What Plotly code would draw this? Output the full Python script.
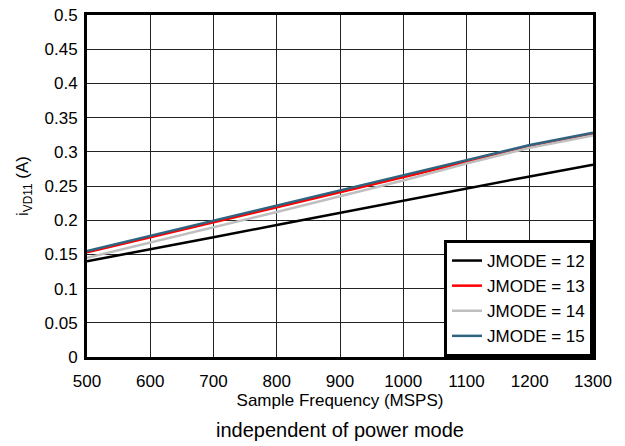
import plotly.graph_objects as go

freq = [500, 600, 700, 800, 900, 1000, 1100, 1200, 1300]
jmode12 = [0.140, 0.157, 0.175, 0.193, 0.211, 0.229, 0.247, 0.264, 0.281]
jmode13 = [0.153, 0.175, 0.197, 0.219, 0.241, 0.263, 0.285, 0.307, 0.325]
jmode14 = [0.145, 0.167, 0.189, 0.212, 0.235, 0.258, 0.283, 0.306, 0.324]
jmode15 = [0.155, 0.177, 0.199, 0.221, 0.243, 0.265, 0.287, 0.310, 0.328]
series_names = ["JMODE = 12", "JMODE = 13", "JMODE = 14", "JMODE = 15"]
colors = ["#000000", "#ff0000", "#bfbfbf", "#2e6480"]
y_ticks = [0, 0.05, 0.1, 0.15, 0.2, 0.25, 0.3, 0.35, 0.4, 0.45, 0.5]
y_tick_text = ["0", "0.05", "0.1", "0.15", "0.2", "0.25", "0.3", "0.35", "0.4", "0.45", "0.5"]
x_ticks = [500, 600, 700, 800, 900, 1000, 1100, 1200, 1300]

font = "Liberation Sans, Arial, sans-serif"
fig = go.Figure()
for name, ys, c in zip(series_names, [jmode12, jmode13, jmode14, jmode15], colors):
    fig.add_trace(go.Scatter(x=freq, y=ys, mode="lines", name=name,
                             line=dict(color=c, width=2.5)))

W, H = 625, 446
L, R, T, B = 87, 32, 15, 89
ph = H - T - B
fig.update_layout(
    width=W, height=H,
    margin=dict(l=L, r=R, t=T, b=B, autoexpand=False),
    paper_bgcolor="white", plot_bgcolor="white",
    font=dict(family=font, size=17, color="black"),
    showlegend=True,
    legend=dict(x=1, y=0, xanchor="right", yanchor="bottom",
                bordercolor="black", borderwidth=3, bgcolor="white",
                font=dict(size=17), tracegroupgap=0),
    xaxis=dict(range=[500, 1300], tickvals=x_ticks, showgrid=True,
               gridcolor="#222", gridwidth=1, showline=True, linecolor="black",
               linewidth=3, mirror=True, ticks="", zeroline=False, automargin=False,
               ticklabelstandoff=7, ticklabeloverflow="allow",
               title=dict(text="Sample Frequency (MSPS)", font=dict(size=17), standoff=0),
               tickfont=dict(size=17)),
    yaxis=dict(range=[0, 0.5], tickvals=y_ticks, ticktext=y_tick_text, showgrid=True,
               gridcolor="#222", gridwidth=1, showline=True, linecolor="black",
               linewidth=3, mirror=True, ticks="", zeroline=False, automargin=False,
               ticklabelstandoff=3, ticklabeloverflow="allow",
               title=dict(text="i<sub>VD11</sub> (A)", font=dict(size=17), standoff=12),
               tickfont=dict(size=17)),
    annotations=[dict(text="independent of power mode", x=0.5, xref="paper",
                      y=-(430 - (H - B)) / ph, yref="paper", yanchor="middle",
                      showarrow=False, font=dict(size=20))],
)
# remove the default 8px page margin so the figure sits at the window's corner
fig.write_html("out.html", config={"displayModeBar": False},
               post_script="document.body.style.margin='0';")
